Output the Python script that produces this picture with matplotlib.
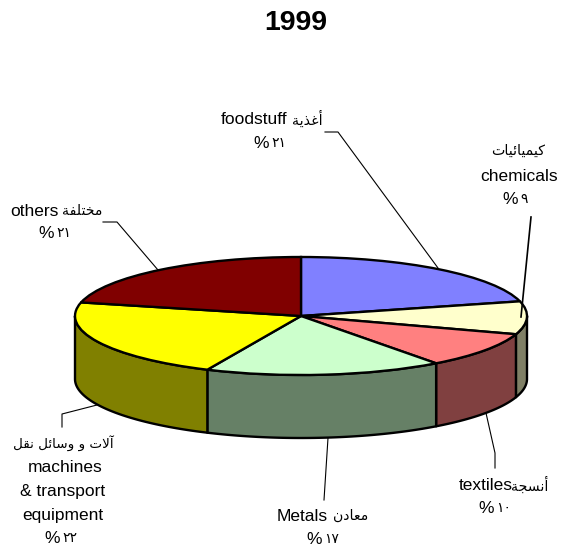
import numpy as np
import matplotlib
matplotlib.use("Agg")
import matplotlib.pyplot as plt
from matplotlib.patches import Polygon
from matplotlib.transforms import Affine2D

# ---- data ----
title = "1999"
categories = ["foodstuff", "chemicals", "textiles", "Metals", "machines & transport equipment", "others"]
values = [21, 9, 9.8, 17, 21.9, 21.3]   # slice sizes
top_colors = ["#8080FF", "#FFFFCC", "#FF8080", "#CCFFCC", "#FFFF00", "#800000"]
side_colors = ["#404080", "#808066", "#804040", "#668066", "#808000", "#400000"]

# ---- minimal Arabic shaping (matplotlib does not shape or reorder) ----
FORMS = {
    'أ': (0xFE83, 0xFE84), 'آ': (0xFE81, 0xFE82), 'ا': (0xFE8D, 0xFE8E),
    'ذ': (0xFEAB, 0xFEAC), 'د': (0xFEA9, 0xFEAA), 'و': (0xFEED, 0xFEEE),
    'ة': (0xFE93, 0xFE94),
    'غ': (0xFECD, 0xFECE, 0xFECF, 0xFED0), 'ي': (0xFEF1, 0xFEF2, 0xFEF3, 0xFEF4),
    'ك': (0xFED9, 0xFEDA, 0xFEDB, 0xFEDC), 'م': (0xFEE1, 0xFEE2, 0xFEE3, 0xFEE4),
    'ئ': (0xFE89, 0xFE8A, 0xFE8B, 0xFE8C), 'ت': (0xFE95, 0xFE96, 0xFE97, 0xFE98),
    'خ': (0xFEA5, 0xFEA6, 0xFEA7, 0xFEA8), 'ل': (0xFEDD, 0xFEDE, 0xFEDF, 0xFEE0),
    'ف': (0xFED1, 0xFED2, 0xFED3, 0xFED4), 'س': (0xFEB1, 0xFEB2, 0xFEB3, 0xFEB4),
    'ن': (0xFEE5, 0xFEE6, 0xFEE7, 0xFEE8), 'ق': (0xFED5, 0xFED6, 0xFED7, 0xFED8),
    'ع': (0xFEC9, 0xFECA, 0xFECB, 0xFECC), 'ج': (0xFE9D, 0xFE9E, 0xFE9F, 0xFEA0),
}

def shape(text):
    text = text.replace('لا', '\uE000')
    out = []
    for i, c in enumerate(text):
        prev = text[i - 1] if i else ' '
        nxt = text[i + 1] if i + 1 < len(text) else ' '
        joined_prev = prev in FORMS and len(FORMS[prev]) == 4
        joins_next = nxt in FORMS or nxt == '\uE000'
        if c == '\uE000':
            out.append(chr(0xFEFC if joined_prev else 0xFEFB))
        elif c in FORMS:
            f = FORMS[c]
            if len(f) == 2:
                out.append(chr(f[1] if joined_prev else f[0]))
            elif joined_prev and joins_next:
                out.append(chr(f[3]))
            elif joined_prev:
                out.append(chr(f[1]))
            elif joins_next:
                out.append(chr(f[2]))
            else:
                out.append(chr(f[0]))
        else:
            out.append(c)
    return ''.join(reversed(out))

W, H = 562, 550
CX, CY, RX, RY, DEPTH = 301, 316, 226, 59, 63

fig = plt.figure(figsize=(W / 100, H / 100), dpi=100)
ax = fig.add_axes([0, 0, 1, 1])

# side wall: front half of the rim only (90..270 degrees clockwise from 12 o'clock)
d = DEPTH / RY
edges = np.concatenate([[0], np.cumsum(values)]) / sum(values) * 360.0
for a0, a1, col in zip(edges[:-1], edges[1:], side_colors):
    lo, hi = max(a0, 90), min(a1, 270)
    if lo >= hi:
        continue
    t = np.radians(np.linspace(lo, hi, 60))
    x, y = np.sin(t), np.cos(t)
    pts = np.column_stack([np.r_[x, x[::-1]], np.r_[y, y[::-1] - d]])
    ax.add_patch(Polygon(pts, closed=True, facecolor=col, edgecolor="black", linewidth=1.7, joinstyle="round"))

# top face
ax.pie(values, colors=top_colors, startangle=90, counterclock=False, radius=1,
       wedgeprops=dict(edgecolor="black", linewidth=1.7))
ax.set_aspect("auto")
ax.set_xlim(-CX / RX, (W - CX) / RX)
ax.set_ylim((CY - H) / RY, CY / RY)
ax.set_xticks([])
ax.set_yticks([])
ax.set_frame_on(False)
ax.set_autoscale_on(False)

px = Affine2D().scale(1, -1).translate(0, H)

# leader lines
leaders = [
    ([325, 338, 438], [132, 132, 268], 0.8),
    ([531, 521], [217, 317], 1.2),
    ([103, 117, 158], [222, 222, 270], 0.8),
    ([62, 62, 97], [427, 414, 405], 0.8),
    ([328, 324], [438, 500], 0.8),
    ([486, 495, 495], [413, 453, 468], 0.8),
]
for xs, ys, lw in leaders:
    ax.plot(xs, ys, color="black", lw=lw, transform=px, clip_on=False, scalex=False, scaley=False)

LAT = "Liberation Sans"
AR = "DejaVu Sans"
LS, AS, DS = 12.5, 10.2, 10.0

def lat(x, y, s, ha="center", size=LS, weight="normal"):
    ax.text(x, y + 1.5, s, transform=px, ha=ha, va="center", family=LAT, fontsize=size,
            color="black", fontweight=weight)

def ar(x, y, s, ha="center", size=AS):
    ax.text(x, y + 1, shape(s), transform=px, ha=ha, va="center", family=AR, fontsize=size, color="black")

def pct(xc, y, digits):
    # Arabic-Indic digits read left to right, so they are not passed through shape()
    lat(xc - 1, y, "%", ha="right")
    ax.text(xc + 1, y + 1, digits, transform=px, ha="left", va="center", family=AR, fontsize=DS, color="black")

lat(296, 22, title, size=20.5, weight="bold")

lat(287, 118, "foodstuff", ha="right"); ar(323, 118, "أغذية", ha="right")
pct(270, 142, "٢١")

ar(518, 150, "كيميائيات")
lat(519, 175, "chemicals")
pct(519, 198, "٩")

lat(10, 210, "others", ha="left"); ar(102, 210, "مختلفة", ha="right")
pct(55, 232, "٢١")

ar(63, 442, "آلات و وسائل نقل", size=9.7)
lat(65, 466, "machines")
lat(63, 490, "& transport")
lat(63, 514, "equipment")
pct(61, 537, "٢٢")

lat(328, 515, "Metals", ha="right"); ar(368, 515, "معادن", ha="right")
pct(323, 538, "١٧")

lat(513, 484, "textiles", ha="right"); ar(548, 484, "أنسجة", ha="right")
pct(495, 507, "١٠")

fig.savefig("out.png", dpi=100, facecolor="white")
